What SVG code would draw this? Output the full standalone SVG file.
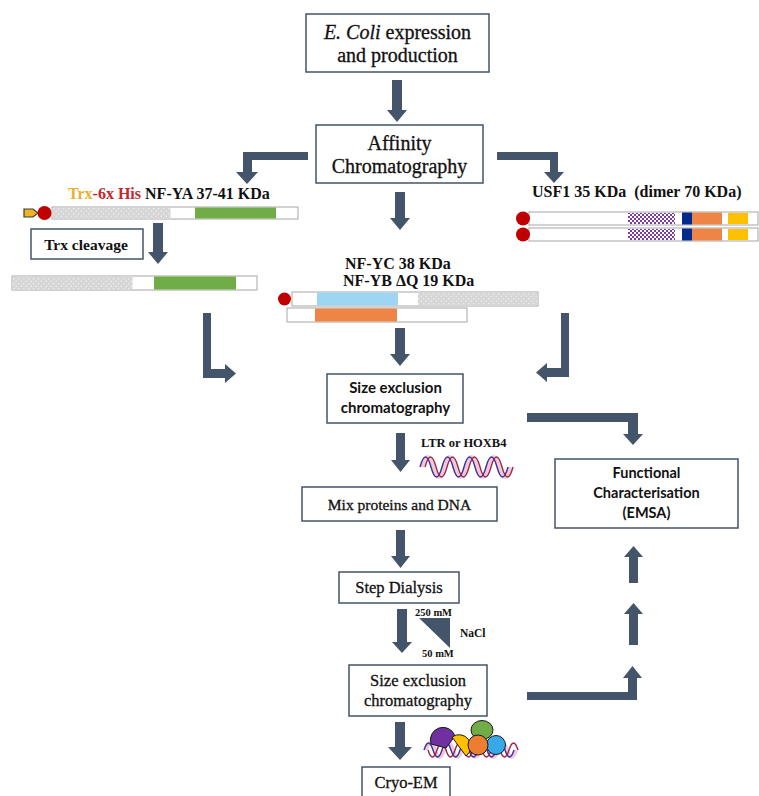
<svg xmlns="http://www.w3.org/2000/svg" width="759" height="796" viewBox="0 0 759 796">
  <style>
    .box { fill: #ffffff; stroke: #44546a; stroke-width: 1.5; }
    .arrow { fill: #44546a; }
    .serif { font-family: "Liberation Serif", "DejaVu Serif", serif; fill: #111111; }
    .reg { stroke: #111111; stroke-width: 0.3; }
    .sans { font-family: Lato, "Liberation Sans", sans-serif; font-weight: bold; fill: #111111; }
    .b { font-weight: bold; }
    .bar { fill: #ffffff; stroke: #a6a6a6; stroke-width: 1; }
    .dots { fill: url(#dotFill); }
    .check { fill: url(#checkFill); }
    .strandA { fill: none; stroke: #3a2f9c; stroke-width: 1.4; }
    .strandB { fill: none; stroke: #9c2447; stroke-width: 1.4; }
    .rungs { fill: none; stroke: #eab0c6; stroke-width: 4; opacity: 0.7; }
    .blob { stroke: #1a1a1a; stroke-width: 1; }
  </style>
  <defs>
    <pattern id="dotFill" width="5" height="5" patternUnits="userSpaceOnUse">
      <rect width="5" height="5" fill="#d6d6d6"/>
      <circle cx="1.2" cy="1.2" r="0.7" fill="#f4f4f4"/>
      <circle cx="3.7" cy="3.7" r="0.7" fill="#f4f4f4"/>
    </pattern>
    <pattern id="checkFill" width="4" height="4" patternUnits="userSpaceOnUse">
      <rect width="4" height="4" fill="#ffffff"/>
      <rect width="2" height="2" fill="#7a3aa8"/>
      <rect x="2" y="2" width="2" height="2" fill="#7a3aa8"/>
    </pattern>
  </defs>

  <!-- process boxes -->
  <g id="ecoli">
    <rect class="box" x="306" y="14" width="183" height="58"/>
    <text class="serif reg" font-size="20" x="397.5" y="39" text-anchor="middle"><tspan font-style="italic">E. Coli</tspan> expression</text>
    <text class="serif reg" font-size="20" x="397.5" y="62" text-anchor="middle">and production</text>
  </g>
  <g id="affinity">
    <rect class="box" x="316" y="125" width="167" height="58"/>
    <text class="serif reg" font-size="20" x="399.5" y="150" text-anchor="middle">Affinity</text>
    <text class="serif reg" font-size="20" x="399.5" y="173" text-anchor="middle">Chromatography</text>
  </g>
  <g id="trx-cleavage">
    <rect class="box" x="31" y="229" width="112" height="30"/>
    <text class="serif b" font-size="15.5" x="86" y="250" text-anchor="middle">Trx cleavage</text>
  </g>
  <g id="sec1">
    <rect class="box" x="327" y="374" width="136" height="49"/>
    <text class="sans" font-size="15" x="395.5" y="393" text-anchor="middle">Size exclusion</text>
    <text class="sans" font-size="15" x="395.5" y="413" text-anchor="middle">chromatography</text>
  </g>
  <g id="mix">
    <rect class="box" x="302" y="487" width="195" height="34"/>
    <text class="serif reg" font-size="15.5" x="399.5" y="510" text-anchor="middle">Mix proteins and DNA</text>
  </g>
  <g id="dialysis">
    <rect class="box" x="339" y="572" width="120" height="31"/>
    <text class="serif reg" font-size="16.5" x="399" y="593" text-anchor="middle">Step Dialysis</text>
  </g>
  <g id="sec2">
    <rect class="box" x="349" y="665" width="138" height="51"/>
    <text class="serif reg" font-size="16.5" x="418" y="686" text-anchor="middle">Size exclusion</text>
    <text class="serif reg" font-size="16.5" x="418" y="706" text-anchor="middle">chromatography</text>
  </g>
  <g id="cryo">
    <rect class="box" x="362" y="767" width="88" height="40"/>
    <text class="serif reg" font-size="16.5" x="406" y="788" text-anchor="middle">Cryo-EM</text>
  </g>
  <g id="functional">
    <rect class="box" x="555" y="459" width="183" height="69"/>
    <text class="sans" font-size="14.5" x="646.5" y="478" text-anchor="middle">Functional</text>
    <text class="sans" font-size="14.5" x="646.5" y="498" text-anchor="middle">Characterisation</text>
    <text class="sans" font-size="14.5" x="646.5" y="518" text-anchor="middle">(EMSA)</text>
  </g>

  <!-- protein constructs -->
  <g id="nfya">
    <text class="serif b" font-size="16" x="68" y="199"><tspan fill="#e8b02c">Trx</tspan><tspan fill="#c0282d">-6x His</tspan> NF-YA 37-41 KDa</text>
    <rect class="bar" x="52" y="207" width="246" height="12"/>
    <rect class="dots" x="52.5" y="207.5" width="118" height="11"/>
    <rect x="195" y="207.5" width="81" height="11" fill="#70ad47"/>
    <path d="M24 209 H33 L38 213 L33 217 H24 Z" fill="#f0b323" stroke="#3a3a3a" stroke-width="1.2"/>
    <circle cx="44.5" cy="213" r="7" fill="#c00000"/>
  </g>
  <g id="nfya-cleaved">
    <rect class="bar" x="12" y="276" width="245" height="14"/>
    <rect class="dots" x="12.5" y="276.5" width="120" height="13"/>
    <rect x="154" y="276.5" width="82" height="13" fill="#70ad47"/>
  </g>
  <g id="nfyb-nfyc">
    <text class="serif b" font-size="16" x="345" y="269">NF-YC 38 KDa</text>
    <text class="serif b" font-size="16" x="343" y="286">NF-YB ΔQ 19 KDa</text>
    <rect class="bar" x="292" y="292" width="246" height="14"/>
    <rect x="317" y="292.5" width="81" height="13" fill="#9dd5f2"/>
    <rect class="dots" x="418" y="292.5" width="119.5" height="13"/>
    <circle cx="284.5" cy="299" r="6.5" fill="#c00000"/>
    <rect class="bar" x="287" y="308" width="180" height="14"/>
    <rect x="315" y="308.5" width="82" height="13" fill="#ed8546"/>
  </g>
  <g id="usf1">
    <text class="serif b" font-size="16" x="532" y="197" xml:space="preserve">USF1 35 KDa  (dimer 70 KDa)</text>
    <rect class="bar" x="529" y="212" width="229" height="13"/>
    <rect class="check" x="628" y="213" width="47" height="11"/>
    <rect x="682" y="212.5" width="10" height="12" fill="#002a8c"/>
    <rect x="692" y="212.5" width="30" height="12" fill="#ed8546"/>
    <rect x="728" y="213" width="20" height="11" fill="#ffc000"/>
    <circle cx="523" cy="218.5" r="7" fill="#c00000"/>
    <rect class="bar" x="529" y="228" width="229" height="13"/>
    <rect class="check" x="628" y="229" width="47" height="11"/>
    <rect x="682" y="228.5" width="10" height="12" fill="#002a8c"/>
    <rect x="692" y="228.5" width="30" height="12" fill="#ed8546"/>
    <rect x="728" y="229" width="20" height="11" fill="#ffc000"/>
    <circle cx="523" cy="234.5" r="7" fill="#c00000"/>
  </g>

  <!-- DNA probe -->
  <g id="dna-probe">
    <text class="serif b" font-size="12.5" x="421" y="447">LTR or HOXB4</text>
    <path class="rungs" d="M422 467 q5.5 -20 11 0 t11 0 t11 0 t11 0 t11 0 t11 0 t11 0 t11 0"/>
    <path class="strandA" d="M420 467 q5.5 -20 11 0 t11 0 t11 0 t11 0 t11 0 t11 0 t11 0 t11 0"/>
    <path class="strandB" d="M425 467 q5.5 -20 11 0 t11 0 t11 0 t11 0 t11 0 t11 0 t11 0 t11 0"/>
  </g>

  <!-- salt gradient -->
  <g id="nacl-gradient">
    <polygon points="419,618 450,618 450,648" fill="#44546a"/>
    <text class="serif b" font-size="10.5" x="415" y="616">250 mM</text>
    <text class="serif b" font-size="11.5" x="460" y="637">NaCl</text>
    <text class="serif b" font-size="10.5" x="422" y="657">50 mM</text>
  </g>

  <!-- protein-DNA complex -->
  <g id="complex">
    <path class="rungs" d="M426 750 q4.5 -14 9 0 t9 0 t9 0 t9 0 t9 0 t9 0 t9 0 t9 0 t9 0 t9 0"/>
    <path class="strandA" d="M424 750 q4.5 -14 9 0 t9 0 t9 0 t9 0 t9 0 t9 0 t9 0 t9 0 t9 0 t9 0"/>
    <path class="strandB" d="M428 750 q4.5 14 9 0 t9 0 t9 0 t9 0 t9 0 t9 0 t9 0 t9 0 t9 0 t9 0"/>
    <path class="blob" d="M431 744 A12.5 12.5 0 0 1 455 736 L446 748 Z" fill="#7030a0"/>
    <path class="blob" d="M452 737 A10.5 10.5 0 1 1 466 756 Z" fill="#ffc000"/>
    <ellipse class="blob" cx="482" cy="730" rx="11" ry="9.5" fill="#70ad47"/>
    <circle class="blob" cx="496" cy="745" r="9.5" fill="#37a8e8"/>
    <circle class="blob" cx="478" cy="745" r="10" fill="#ed7d31"/>
  </g>

  <!-- connectors -->
  <g id="connectors">
    <polygon class="arrow" points="392,80 402,80 402,110 407,110 397,122 387,110 392,110"/>
    <polygon class="arrow" points="395,192 405,192 405,218 410,218 400,230 390,218 395,218"/>
    <polygon class="arrow" points="308,152 308,160 252,160 252,172 258,172 247,184 236,172 243,172 243,152"/>
    <polygon class="arrow" points="497,152 558,152 558,172 564,172 554,183 544,172 550,172 550,160 497,160"/>
    <polygon class="arrow" points="153,223 163,223 163,252 168,252 158,264 148,252 153,252"/>
    <polygon class="arrow" points="395,328 405,328 405,354 410,354 400,366 390,354 395,354"/>
    <polygon class="arrow" points="203,313 211,313 211,369 225,369 225,364 236,373.5 225,383 225,378 203,378"/>
    <polygon class="arrow" points="561,313 569,313 569,377 547,377 547,382 536,372.5 547,363 547,368 561,368"/>
    <polygon class="arrow" points="396,433 405,433 405,460 410,460 400.5,472 391,460 396,460"/>
    <polygon class="arrow" points="527,413 638,413 638,434 643,434 633,445 623,434 628,434 628,422 527,422"/>
    <polygon class="arrow" points="396,530 405,530 405,556 410,556 400.5,568 391,556 396,556"/>
    <polygon class="arrow" points="397,609 407,609 407,642 412,642 402,653 392,642 397,642"/>
    <polygon class="arrow" points="395,722 405,722 405,747 412,747 400,760 388,747 395,747"/>
    <polygon class="arrow" points="629,583 638,583 638,557 643,557 633.5,546 624,557 629,557"/>
    <polygon class="arrow" points="629,645 638,645 638,614 643,614 633.5,603 624,614 629,614"/>
    <polygon class="arrow" points="527,700 637,700 637,678 642,678 632.5,666 623,678 628,678 628,692 527,692"/>
  </g>
</svg>
